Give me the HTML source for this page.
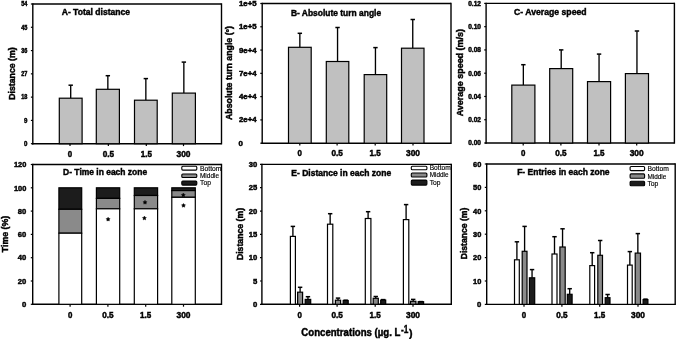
<!DOCTYPE html>
<html><head><meta charset="utf-8"><style>
html,body{margin:0;padding:0;background:#fff;width:676px;height:339px;overflow:hidden}
svg{display:block;will-change:transform}
text{font-family:"Liberation Sans", sans-serif;fill:#000}
</style></head><body>
<svg width="676" height="339" viewBox="0 0 676 339">
<rect x="0" y="0" width="676" height="339" fill="#fff"/>
<line x1="32.80" y1="4.00" x2="221.50" y2="4.00" stroke="#000" stroke-width="1.4"/>
<line x1="221.50" y1="3.30" x2="221.50" y2="144.40" stroke="#000" stroke-width="1.4"/>
<line x1="32.10" y1="143.70" x2="221.50" y2="143.70" stroke="#000" stroke-width="1.4"/>
<line x1="32.80" y1="3.30" x2="32.80" y2="144.40" stroke="#000" stroke-width="1.4"/>
<line x1="30.90" y1="143.70" x2="32.80" y2="143.70" stroke="#000" stroke-width="1.2"/>
<line x1="30.90" y1="120.42" x2="32.80" y2="120.42" stroke="#000" stroke-width="1.2"/>
<line x1="30.90" y1="97.13" x2="32.80" y2="97.13" stroke="#000" stroke-width="1.2"/>
<line x1="30.90" y1="73.85" x2="32.80" y2="73.85" stroke="#000" stroke-width="1.2"/>
<line x1="30.90" y1="50.57" x2="32.80" y2="50.57" stroke="#000" stroke-width="1.2"/>
<line x1="30.90" y1="27.28" x2="32.80" y2="27.28" stroke="#000" stroke-width="1.2"/>
<line x1="30.90" y1="4.00" x2="32.80" y2="4.00" stroke="#000" stroke-width="1.2"/>
<text x="27.4" y="146.004" font-size="6.4" font-weight="bold" text-anchor="end" stroke="#000" stroke-width="0.45" textLength="3.4" lengthAdjust="spacingAndGlyphs">0</text>
<text x="27.4" y="122.72066666666666" font-size="6.4" font-weight="bold" text-anchor="end" stroke="#000" stroke-width="0.45" textLength="3.4" lengthAdjust="spacingAndGlyphs">9</text>
<text x="27.4" y="99.43733333333333" font-size="6.4" font-weight="bold" text-anchor="end" stroke="#000" stroke-width="0.45" textLength="6.2" lengthAdjust="spacingAndGlyphs">18</text>
<text x="27.4" y="76.154" font-size="6.4" font-weight="bold" text-anchor="end" stroke="#000" stroke-width="0.45" textLength="6.2" lengthAdjust="spacingAndGlyphs">27</text>
<text x="27.4" y="52.870666666666665" font-size="6.4" font-weight="bold" text-anchor="end" stroke="#000" stroke-width="0.45" textLength="6.2" lengthAdjust="spacingAndGlyphs">36</text>
<text x="27.4" y="29.587333333333316" font-size="6.4" font-weight="bold" text-anchor="end" stroke="#000" stroke-width="0.45" textLength="6.2" lengthAdjust="spacingAndGlyphs">45</text>
<text x="27.4" y="6.304" font-size="6.4" font-weight="bold" text-anchor="end" stroke="#000" stroke-width="0.45" textLength="6.2" lengthAdjust="spacingAndGlyphs">54</text>
<line x1="70.00" y1="143.70" x2="70.00" y2="146.10" stroke="#000" stroke-width="1.2"/>
<line x1="108.35" y1="143.70" x2="108.35" y2="146.10" stroke="#000" stroke-width="1.2"/>
<line x1="146.30" y1="143.70" x2="146.30" y2="146.10" stroke="#000" stroke-width="1.2"/>
<line x1="183.50" y1="143.70" x2="183.50" y2="146.10" stroke="#000" stroke-width="1.2"/>
<text x="70.0" y="157.0" font-size="8.2" font-weight="bold" text-anchor="middle" stroke="#000" stroke-width="0.45" textLength="4.4" lengthAdjust="spacingAndGlyphs">0</text>
<text x="108.35" y="157.0" font-size="8.2" font-weight="bold" text-anchor="middle" stroke="#000" stroke-width="0.45" textLength="11.4" lengthAdjust="spacingAndGlyphs">0.5</text>
<text x="146.3" y="157.0" font-size="8.2" font-weight="bold" text-anchor="middle" stroke="#000" stroke-width="0.45" textLength="11.2" lengthAdjust="spacingAndGlyphs">1.5</text>
<text x="183.5" y="157.0" font-size="8.2" font-weight="bold" text-anchor="middle" stroke="#000" stroke-width="0.45" textLength="14.0" lengthAdjust="spacingAndGlyphs">300</text>
<line x1="70.70" y1="98.20" x2="70.70" y2="85.40" stroke="#000" stroke-width="1.35"/>
<line x1="68.50" y1="85.20" x2="72.90" y2="85.20" stroke="#000" stroke-width="1.5"/>
<rect x="59.30" y="98.20" width="22.80" height="45.50" fill="#c0c0c0" stroke="#000" stroke-width="1.2"/>
<line x1="107.85" y1="89.30" x2="107.85" y2="75.90" stroke="#000" stroke-width="1.35"/>
<line x1="105.65" y1="75.70" x2="110.05" y2="75.70" stroke="#000" stroke-width="1.5"/>
<rect x="96.30" y="89.30" width="23.10" height="54.40" fill="#c0c0c0" stroke="#000" stroke-width="1.2"/>
<line x1="145.85" y1="100.20" x2="145.85" y2="78.80" stroke="#000" stroke-width="1.35"/>
<line x1="143.65" y1="78.60" x2="148.05" y2="78.60" stroke="#000" stroke-width="1.5"/>
<rect x="134.50" y="100.20" width="22.70" height="43.50" fill="#c0c0c0" stroke="#000" stroke-width="1.2"/>
<line x1="183.85" y1="93.10" x2="183.85" y2="62.30" stroke="#000" stroke-width="1.35"/>
<line x1="181.65" y1="62.10" x2="186.05" y2="62.10" stroke="#000" stroke-width="1.5"/>
<rect x="172.30" y="93.10" width="23.10" height="50.60" fill="#c0c0c0" stroke="#000" stroke-width="1.2"/>
<text x="61.7" y="15.1" font-size="9.2" font-weight="bold" text-anchor="start" stroke="#000" stroke-width="0.45" textLength="68.4" lengthAdjust="spacingAndGlyphs">A- Total distance</text>
<text x="15.0" y="73.55" font-size="8.8" font-weight="bold" text-anchor="middle" stroke="#000" stroke-width="0.45" textLength="52.6" lengthAdjust="spacingAndGlyphs" transform="rotate(-90 15.0 73.55)">Distance (m)</text>
<line x1="262.20" y1="3.50" x2="451.00" y2="3.50" stroke="#000" stroke-width="1.4"/>
<line x1="451.00" y1="2.80" x2="451.00" y2="143.90" stroke="#000" stroke-width="1.4"/>
<line x1="261.50" y1="143.20" x2="451.00" y2="143.20" stroke="#000" stroke-width="1.4"/>
<line x1="262.20" y1="2.80" x2="262.20" y2="143.90" stroke="#000" stroke-width="1.4"/>
<line x1="260.30" y1="143.20" x2="262.20" y2="143.20" stroke="#000" stroke-width="1.2"/>
<line x1="260.30" y1="119.92" x2="262.20" y2="119.92" stroke="#000" stroke-width="1.2"/>
<line x1="260.30" y1="96.63" x2="262.20" y2="96.63" stroke="#000" stroke-width="1.2"/>
<line x1="260.30" y1="73.35" x2="262.20" y2="73.35" stroke="#000" stroke-width="1.2"/>
<line x1="260.30" y1="50.07" x2="262.20" y2="50.07" stroke="#000" stroke-width="1.2"/>
<line x1="260.30" y1="26.78" x2="262.20" y2="26.78" stroke="#000" stroke-width="1.2"/>
<line x1="260.30" y1="3.50" x2="262.20" y2="3.50" stroke="#000" stroke-width="1.2"/>
<text x="238.6" y="145.72" font-size="7.0" font-weight="bold" text-anchor="start" stroke="#000" stroke-width="0.45" textLength="4.4" lengthAdjust="spacingAndGlyphs">0</text>
<text x="256.59999999999997" y="122.43666666666665" font-size="7.0" font-weight="bold" text-anchor="end" stroke="#000" stroke-width="0.45" textLength="17.6" lengthAdjust="spacingAndGlyphs">2e+4</text>
<text x="256.59999999999997" y="99.15333333333332" font-size="7.0" font-weight="bold" text-anchor="end" stroke="#000" stroke-width="0.45" textLength="17.6" lengthAdjust="spacingAndGlyphs">4e+4</text>
<text x="256.59999999999997" y="75.86999999999999" font-size="7.0" font-weight="bold" text-anchor="end" stroke="#000" stroke-width="0.45" textLength="17.6" lengthAdjust="spacingAndGlyphs">7e+4</text>
<text x="256.59999999999997" y="52.586666666666666" font-size="7.0" font-weight="bold" text-anchor="end" stroke="#000" stroke-width="0.45" textLength="17.6" lengthAdjust="spacingAndGlyphs">9e+4</text>
<text x="256.59999999999997" y="29.303333333333317" font-size="7.0" font-weight="bold" text-anchor="end" stroke="#000" stroke-width="0.45" textLength="17.6" lengthAdjust="spacingAndGlyphs">1e+5</text>
<text x="256.59999999999997" y="6.02" font-size="7.0" font-weight="bold" text-anchor="end" stroke="#000" stroke-width="0.45" textLength="17.6" lengthAdjust="spacingAndGlyphs">1e+5</text>
<line x1="299.80" y1="143.20" x2="299.80" y2="145.60" stroke="#000" stroke-width="1.2"/>
<line x1="337.10" y1="143.20" x2="337.10" y2="145.60" stroke="#000" stroke-width="1.2"/>
<line x1="375.20" y1="143.20" x2="375.20" y2="145.60" stroke="#000" stroke-width="1.2"/>
<line x1="413.00" y1="143.20" x2="413.00" y2="145.60" stroke="#000" stroke-width="1.2"/>
<text x="299.8" y="156.3" font-size="8.2" font-weight="bold" text-anchor="middle" stroke="#000" stroke-width="0.45" textLength="4.4" lengthAdjust="spacingAndGlyphs">0</text>
<text x="337.1" y="156.3" font-size="8.2" font-weight="bold" text-anchor="middle" stroke="#000" stroke-width="0.45" textLength="11.4" lengthAdjust="spacingAndGlyphs">0.5</text>
<text x="375.2" y="156.3" font-size="8.2" font-weight="bold" text-anchor="middle" stroke="#000" stroke-width="0.45" textLength="11.2" lengthAdjust="spacingAndGlyphs">1.5</text>
<text x="413.0" y="156.3" font-size="8.2" font-weight="bold" text-anchor="middle" stroke="#000" stroke-width="0.45" textLength="14.0" lengthAdjust="spacingAndGlyphs">300</text>
<line x1="299.85" y1="47.30" x2="299.85" y2="33.50" stroke="#000" stroke-width="1.35"/>
<line x1="297.65" y1="33.30" x2="302.05" y2="33.30" stroke="#000" stroke-width="1.5"/>
<rect x="288.50" y="47.30" width="22.70" height="95.90" fill="#c0c0c0" stroke="#000" stroke-width="1.2"/>
<line x1="337.55" y1="61.50" x2="337.55" y2="27.70" stroke="#000" stroke-width="1.35"/>
<line x1="335.35" y1="27.50" x2="339.75" y2="27.50" stroke="#000" stroke-width="1.5"/>
<rect x="326.30" y="61.50" width="22.50" height="81.70" fill="#c0c0c0" stroke="#000" stroke-width="1.2"/>
<line x1="375.45" y1="74.60" x2="375.45" y2="47.80" stroke="#000" stroke-width="1.35"/>
<line x1="373.25" y1="47.60" x2="377.65" y2="47.60" stroke="#000" stroke-width="1.5"/>
<rect x="364.20" y="74.60" width="22.50" height="68.60" fill="#c0c0c0" stroke="#000" stroke-width="1.2"/>
<line x1="412.75" y1="48.20" x2="412.75" y2="19.70" stroke="#000" stroke-width="1.35"/>
<line x1="410.55" y1="19.50" x2="414.95" y2="19.50" stroke="#000" stroke-width="1.5"/>
<rect x="401.50" y="48.20" width="22.50" height="95.00" fill="#c0c0c0" stroke="#000" stroke-width="1.2"/>
<text x="290.9" y="15.5" font-size="9.2" font-weight="bold" text-anchor="start" stroke="#000" stroke-width="0.45" textLength="90.2" lengthAdjust="spacingAndGlyphs">B- Absolute turn angle</text>
<text x="232.2" y="73.0" font-size="8.8" font-weight="bold" text-anchor="middle" stroke="#000" stroke-width="0.45" textLength="94.0" lengthAdjust="spacingAndGlyphs" transform="rotate(-90 232.2 73.0)">Absolute turn angle (°)</text>
<line x1="486.10" y1="3.40" x2="674.40" y2="3.40" stroke="#000" stroke-width="1.4"/>
<line x1="674.40" y1="2.70" x2="674.40" y2="143.70" stroke="#000" stroke-width="1.4"/>
<line x1="485.40" y1="143.00" x2="674.40" y2="143.00" stroke="#000" stroke-width="1.4"/>
<line x1="486.10" y1="2.70" x2="486.10" y2="143.70" stroke="#000" stroke-width="1.4"/>
<line x1="484.20" y1="143.00" x2="486.10" y2="143.00" stroke="#000" stroke-width="1.2"/>
<line x1="484.20" y1="119.73" x2="486.10" y2="119.73" stroke="#000" stroke-width="1.2"/>
<line x1="484.20" y1="96.47" x2="486.10" y2="96.47" stroke="#000" stroke-width="1.2"/>
<line x1="484.20" y1="73.20" x2="486.10" y2="73.20" stroke="#000" stroke-width="1.2"/>
<line x1="484.20" y1="49.93" x2="486.10" y2="49.93" stroke="#000" stroke-width="1.2"/>
<line x1="484.20" y1="26.67" x2="486.10" y2="26.67" stroke="#000" stroke-width="1.2"/>
<line x1="484.20" y1="3.40" x2="486.10" y2="3.40" stroke="#000" stroke-width="1.2"/>
<text x="481.0" y="145.376" font-size="6.6" font-weight="bold" text-anchor="end" stroke="#000" stroke-width="0.45" textLength="12.8" lengthAdjust="spacingAndGlyphs">0.00</text>
<text x="481.0" y="122.10933333333334" font-size="6.6" font-weight="bold" text-anchor="end" stroke="#000" stroke-width="0.45" textLength="12.8" lengthAdjust="spacingAndGlyphs">0.02</text>
<text x="481.0" y="98.84266666666667" font-size="6.6" font-weight="bold" text-anchor="end" stroke="#000" stroke-width="0.45" textLength="12.8" lengthAdjust="spacingAndGlyphs">0.04</text>
<text x="481.0" y="75.57600000000001" font-size="6.6" font-weight="bold" text-anchor="end" stroke="#000" stroke-width="0.45" textLength="12.8" lengthAdjust="spacingAndGlyphs">0.06</text>
<text x="481.0" y="52.309333333333335" font-size="6.6" font-weight="bold" text-anchor="end" stroke="#000" stroke-width="0.45" textLength="12.8" lengthAdjust="spacingAndGlyphs">0.08</text>
<text x="481.0" y="29.042666666666673" font-size="6.6" font-weight="bold" text-anchor="end" stroke="#000" stroke-width="0.45" textLength="12.8" lengthAdjust="spacingAndGlyphs">0.10</text>
<text x="481.0" y="5.776000000000005" font-size="6.6" font-weight="bold" text-anchor="end" stroke="#000" stroke-width="0.45" textLength="12.8" lengthAdjust="spacingAndGlyphs">0.12</text>
<line x1="523.20" y1="143.00" x2="523.20" y2="145.40" stroke="#000" stroke-width="1.2"/>
<line x1="560.90" y1="143.00" x2="560.90" y2="145.40" stroke="#000" stroke-width="1.2"/>
<line x1="599.00" y1="143.00" x2="599.00" y2="145.40" stroke="#000" stroke-width="1.2"/>
<line x1="636.70" y1="143.00" x2="636.70" y2="145.40" stroke="#000" stroke-width="1.2"/>
<text x="523.2" y="156.3" font-size="8.2" font-weight="bold" text-anchor="middle" stroke="#000" stroke-width="0.45" textLength="4.4" lengthAdjust="spacingAndGlyphs">0</text>
<text x="560.9" y="156.3" font-size="8.2" font-weight="bold" text-anchor="middle" stroke="#000" stroke-width="0.45" textLength="11.4" lengthAdjust="spacingAndGlyphs">0.5</text>
<text x="599.0" y="156.3" font-size="8.2" font-weight="bold" text-anchor="middle" stroke="#000" stroke-width="0.45" textLength="11.2" lengthAdjust="spacingAndGlyphs">1.5</text>
<text x="636.7" y="156.3" font-size="8.2" font-weight="bold" text-anchor="middle" stroke="#000" stroke-width="0.45" textLength="14.0" lengthAdjust="spacingAndGlyphs">300</text>
<line x1="523.35" y1="85.10" x2="523.35" y2="64.90" stroke="#000" stroke-width="1.35"/>
<line x1="521.15" y1="64.70" x2="525.55" y2="64.70" stroke="#000" stroke-width="1.5"/>
<rect x="511.80" y="85.10" width="23.10" height="57.90" fill="#c0c0c0" stroke="#000" stroke-width="1.2"/>
<line x1="561.20" y1="68.60" x2="561.20" y2="50.10" stroke="#000" stroke-width="1.35"/>
<line x1="559.00" y1="49.90" x2="563.40" y2="49.90" stroke="#000" stroke-width="1.5"/>
<rect x="549.70" y="68.60" width="23.00" height="74.40" fill="#c0c0c0" stroke="#000" stroke-width="1.2"/>
<line x1="599.05" y1="81.60" x2="599.05" y2="54.30" stroke="#000" stroke-width="1.35"/>
<line x1="596.85" y1="54.10" x2="601.25" y2="54.10" stroke="#000" stroke-width="1.5"/>
<rect x="587.50" y="81.60" width="23.10" height="61.40" fill="#c0c0c0" stroke="#000" stroke-width="1.2"/>
<line x1="636.95" y1="73.60" x2="636.95" y2="31.20" stroke="#000" stroke-width="1.35"/>
<line x1="634.75" y1="31.00" x2="639.15" y2="31.00" stroke="#000" stroke-width="1.5"/>
<rect x="625.40" y="73.60" width="23.10" height="69.40" fill="#c0c0c0" stroke="#000" stroke-width="1.2"/>
<text x="514.0" y="15.2" font-size="9.2" font-weight="bold" text-anchor="start" stroke="#000" stroke-width="0.45" textLength="72.6" lengthAdjust="spacingAndGlyphs">C- Average speed</text>
<text x="462.7" y="72.65" font-size="8.8" font-weight="bold" text-anchor="middle" stroke="#000" stroke-width="0.45" textLength="87.3" lengthAdjust="spacingAndGlyphs" transform="rotate(-90 462.7 72.65)">Average speed (m/s)</text>
<line x1="32.70" y1="164.50" x2="221.50" y2="164.50" stroke="#000" stroke-width="1.4"/>
<line x1="221.50" y1="163.80" x2="221.50" y2="305.00" stroke="#000" stroke-width="1.4"/>
<line x1="32.00" y1="304.30" x2="221.50" y2="304.30" stroke="#000" stroke-width="1.4"/>
<line x1="32.70" y1="163.80" x2="32.70" y2="305.00" stroke="#000" stroke-width="1.4"/>
<line x1="30.80" y1="304.30" x2="32.70" y2="304.30" stroke="#000" stroke-width="1.2"/>
<line x1="30.80" y1="281.00" x2="32.70" y2="281.00" stroke="#000" stroke-width="1.2"/>
<line x1="30.80" y1="257.70" x2="32.70" y2="257.70" stroke="#000" stroke-width="1.2"/>
<line x1="30.80" y1="234.40" x2="32.70" y2="234.40" stroke="#000" stroke-width="1.2"/>
<line x1="30.80" y1="211.10" x2="32.70" y2="211.10" stroke="#000" stroke-width="1.2"/>
<line x1="30.80" y1="187.80" x2="32.70" y2="187.80" stroke="#000" stroke-width="1.2"/>
<line x1="30.80" y1="164.50" x2="32.70" y2="164.50" stroke="#000" stroke-width="1.2"/>
<text x="26.299999999999997" y="307.036" font-size="7.6" font-weight="bold" text-anchor="end" stroke="#000" stroke-width="0.45" textLength="4.3" lengthAdjust="spacingAndGlyphs">0</text>
<text x="26.299999999999997" y="283.736" font-size="7.6" font-weight="bold" text-anchor="end" stroke="#000" stroke-width="0.45" textLength="8.5" lengthAdjust="spacingAndGlyphs">20</text>
<text x="26.299999999999997" y="260.436" font-size="7.6" font-weight="bold" text-anchor="end" stroke="#000" stroke-width="0.45" textLength="8.5" lengthAdjust="spacingAndGlyphs">40</text>
<text x="26.299999999999997" y="237.136" font-size="7.6" font-weight="bold" text-anchor="end" stroke="#000" stroke-width="0.45" textLength="8.5" lengthAdjust="spacingAndGlyphs">60</text>
<text x="26.299999999999997" y="213.836" font-size="7.6" font-weight="bold" text-anchor="end" stroke="#000" stroke-width="0.45" textLength="8.5" lengthAdjust="spacingAndGlyphs">80</text>
<text x="26.299999999999997" y="190.536" font-size="7.6" font-weight="bold" text-anchor="end" stroke="#000" stroke-width="0.45" textLength="12.4" lengthAdjust="spacingAndGlyphs">100</text>
<text x="26.299999999999997" y="167.236" font-size="7.6" font-weight="bold" text-anchor="end" stroke="#000" stroke-width="0.45" textLength="12.4" lengthAdjust="spacingAndGlyphs">120</text>
<line x1="70.10" y1="304.30" x2="70.10" y2="306.70" stroke="#000" stroke-width="1.2"/>
<line x1="107.90" y1="304.30" x2="107.90" y2="306.70" stroke="#000" stroke-width="1.2"/>
<line x1="145.70" y1="304.30" x2="145.70" y2="306.70" stroke="#000" stroke-width="1.2"/>
<line x1="183.50" y1="304.30" x2="183.50" y2="306.70" stroke="#000" stroke-width="1.2"/>
<text x="70.1" y="317.6" font-size="8.2" font-weight="bold" text-anchor="middle" stroke="#000" stroke-width="0.45" textLength="4.4" lengthAdjust="spacingAndGlyphs">0</text>
<text x="107.9" y="317.6" font-size="8.2" font-weight="bold" text-anchor="middle" stroke="#000" stroke-width="0.45" textLength="11.4" lengthAdjust="spacingAndGlyphs">0.5</text>
<text x="145.7" y="317.6" font-size="8.2" font-weight="bold" text-anchor="middle" stroke="#000" stroke-width="0.45" textLength="11.2" lengthAdjust="spacingAndGlyphs">1.5</text>
<text x="183.5" y="317.6" font-size="8.2" font-weight="bold" text-anchor="middle" stroke="#000" stroke-width="0.45" textLength="14.0" lengthAdjust="spacingAndGlyphs">300</text>
<rect x="58.90" y="187.80" width="22.80" height="21.50" fill="#1c1c1c" stroke="#000" stroke-width="1.2"/>
<rect x="58.90" y="209.30" width="22.80" height="23.90" fill="#8a8a8a" stroke="#000" stroke-width="1.2"/>
<rect x="58.90" y="233.20" width="22.80" height="71.10" fill="#ffffff" stroke="#000" stroke-width="1.2"/>
<rect x="96.40" y="187.80" width="23.30" height="10.60" fill="#1c1c1c" stroke="#000" stroke-width="1.2"/>
<rect x="96.40" y="198.40" width="23.30" height="10.40" fill="#8a8a8a" stroke="#000" stroke-width="1.2"/>
<rect x="96.40" y="208.80" width="23.30" height="95.50" fill="#ffffff" stroke="#000" stroke-width="1.2"/>
<rect x="134.30" y="187.80" width="23.30" height="7.70" fill="#1c1c1c" stroke="#000" stroke-width="1.2"/>
<rect x="134.30" y="195.50" width="23.30" height="13.30" fill="#8a8a8a" stroke="#000" stroke-width="1.2"/>
<rect x="134.30" y="208.80" width="23.30" height="95.50" fill="#ffffff" stroke="#000" stroke-width="1.2"/>
<rect x="171.80" y="187.80" width="23.50" height="2.80" fill="#1c1c1c" stroke="#000" stroke-width="1.2"/>
<rect x="171.80" y="190.60" width="23.50" height="6.70" fill="#8a8a8a" stroke="#000" stroke-width="1.2"/>
<rect x="171.80" y="197.30" width="23.50" height="107.00" fill="#ffffff" stroke="#000" stroke-width="1.2"/>
<polygon points="108.10,217.20 108.78,218.37 110.10,218.65 109.19,219.66 109.33,221.00 108.10,220.45 106.87,221.00 107.01,219.66 106.10,218.65 107.42,218.37" fill="#000" stroke="#000" stroke-width="0.4"/>
<polygon points="145.00,200.30 145.68,201.47 147.00,201.75 146.09,202.76 146.23,204.10 145.00,203.55 143.77,204.10 143.91,202.76 143.00,201.75 144.32,201.47" fill="#000" stroke="#000" stroke-width="0.4"/>
<polygon points="144.40,216.10 145.08,217.27 146.40,217.55 145.49,218.56 145.63,219.90 144.40,219.35 143.17,219.90 143.31,218.56 142.40,217.55 143.72,217.27" fill="#000" stroke="#000" stroke-width="0.4"/>
<polygon points="183.30,193.00 183.98,194.17 185.30,194.45 184.39,195.46 184.53,196.80 183.30,196.25 182.07,196.80 182.21,195.46 181.30,194.45 182.62,194.17" fill="#000" stroke="#000" stroke-width="0.4"/>
<polygon points="183.50,203.40 184.18,204.57 185.50,204.85 184.59,205.86 184.73,207.20 183.50,206.65 182.27,207.20 182.41,205.86 181.50,204.85 182.82,204.57" fill="#000" stroke="#000" stroke-width="0.4"/>
<text x="63.1" y="175.3" font-size="9.2" font-weight="bold" text-anchor="start" stroke="#000" stroke-width="0.45" textLength="84.0" lengthAdjust="spacingAndGlyphs">D- Time in each zone</text>
<text x="8.0" y="234.0" font-size="8.8" font-weight="bold" text-anchor="middle" stroke="#000" stroke-width="0.45" textLength="36.4" lengthAdjust="spacingAndGlyphs" transform="rotate(-90 8.0 234.0)">Time (%)</text>
<rect x="181.80" y="166.20" width="15.00" height="3.90" fill="#ffffff" stroke="#000" stroke-width="1.1" rx="1"/>
<text x="200" y="170.54999999999998" font-size="6.8" font-weight="normal" text-anchor="start" stroke="#000" stroke-width="0.15" textLength="21.4" lengthAdjust="spacingAndGlyphs">Bottom</text>
<rect x="181.80" y="174.00" width="15.00" height="3.50" fill="#8a8a8a" stroke="#000" stroke-width="1.1" rx="1"/>
<text x="200" y="178.15" font-size="6.8" font-weight="normal" text-anchor="start" stroke="#000" stroke-width="0.15" textLength="19.0" lengthAdjust="spacingAndGlyphs">Middle</text>
<rect x="181.80" y="181.00" width="15.00" height="4.10" fill="#1c1c1c" stroke="#000" stroke-width="1.1" rx="1"/>
<text x="200" y="185.45000000000002" font-size="6.8" font-weight="normal" text-anchor="start" stroke="#000" stroke-width="0.15" textLength="11.0" lengthAdjust="spacingAndGlyphs">Top</text>
<line x1="261.90" y1="164.40" x2="451.30" y2="164.40" stroke="#000" stroke-width="1.4"/>
<line x1="451.30" y1="163.70" x2="451.30" y2="305.00" stroke="#000" stroke-width="1.4"/>
<line x1="261.20" y1="304.30" x2="451.30" y2="304.30" stroke="#000" stroke-width="1.4"/>
<line x1="261.90" y1="163.70" x2="261.90" y2="305.00" stroke="#000" stroke-width="1.4"/>
<line x1="260.00" y1="304.30" x2="261.90" y2="304.30" stroke="#000" stroke-width="1.2"/>
<line x1="260.00" y1="280.98" x2="261.90" y2="280.98" stroke="#000" stroke-width="1.2"/>
<line x1="260.00" y1="257.67" x2="261.90" y2="257.67" stroke="#000" stroke-width="1.2"/>
<line x1="260.00" y1="234.35" x2="261.90" y2="234.35" stroke="#000" stroke-width="1.2"/>
<line x1="260.00" y1="211.03" x2="261.90" y2="211.03" stroke="#000" stroke-width="1.2"/>
<line x1="260.00" y1="187.72" x2="261.90" y2="187.72" stroke="#000" stroke-width="1.2"/>
<line x1="260.00" y1="164.40" x2="261.90" y2="164.40" stroke="#000" stroke-width="1.2"/>
<text x="257.2" y="307.036" font-size="7.6" font-weight="bold" text-anchor="end" stroke="#000" stroke-width="0.45" textLength="4.3" lengthAdjust="spacingAndGlyphs">0</text>
<text x="257.2" y="283.71933333333334" font-size="7.6" font-weight="bold" text-anchor="end" stroke="#000" stroke-width="0.45" textLength="4.3" lengthAdjust="spacingAndGlyphs">5</text>
<text x="257.2" y="260.4026666666667" font-size="7.6" font-weight="bold" text-anchor="end" stroke="#000" stroke-width="0.45" textLength="8.5" lengthAdjust="spacingAndGlyphs">10</text>
<text x="257.2" y="237.086" font-size="7.6" font-weight="bold" text-anchor="end" stroke="#000" stroke-width="0.45" textLength="8.5" lengthAdjust="spacingAndGlyphs">15</text>
<text x="257.2" y="213.76933333333335" font-size="7.6" font-weight="bold" text-anchor="end" stroke="#000" stroke-width="0.45" textLength="8.5" lengthAdjust="spacingAndGlyphs">20</text>
<text x="257.2" y="190.4526666666667" font-size="7.6" font-weight="bold" text-anchor="end" stroke="#000" stroke-width="0.45" textLength="8.5" lengthAdjust="spacingAndGlyphs">25</text>
<text x="257.2" y="167.136" font-size="7.6" font-weight="bold" text-anchor="end" stroke="#000" stroke-width="0.45" textLength="8.5" lengthAdjust="spacingAndGlyphs">30</text>
<line x1="299.60" y1="304.30" x2="299.60" y2="306.70" stroke="#000" stroke-width="1.2"/>
<line x1="337.10" y1="304.30" x2="337.10" y2="306.70" stroke="#000" stroke-width="1.2"/>
<line x1="375.20" y1="304.30" x2="375.20" y2="306.70" stroke="#000" stroke-width="1.2"/>
<line x1="413.00" y1="304.30" x2="413.00" y2="306.70" stroke="#000" stroke-width="1.2"/>
<text x="299.6" y="317.6" font-size="8.2" font-weight="bold" text-anchor="middle" stroke="#000" stroke-width="0.45" textLength="4.4" lengthAdjust="spacingAndGlyphs">0</text>
<text x="337.1" y="317.6" font-size="8.2" font-weight="bold" text-anchor="middle" stroke="#000" stroke-width="0.45" textLength="11.4" lengthAdjust="spacingAndGlyphs">0.5</text>
<text x="375.2" y="317.6" font-size="8.2" font-weight="bold" text-anchor="middle" stroke="#000" stroke-width="0.45" textLength="11.2" lengthAdjust="spacingAndGlyphs">1.5</text>
<text x="413.0" y="317.6" font-size="8.2" font-weight="bold" text-anchor="middle" stroke="#000" stroke-width="0.45" textLength="14.0" lengthAdjust="spacingAndGlyphs">300</text>
<line x1="292.90" y1="236.40" x2="292.90" y2="226.60" stroke="#000" stroke-width="1.35"/>
<line x1="290.70" y1="226.40" x2="295.10" y2="226.40" stroke="#000" stroke-width="1.5"/>
<rect x="290.40" y="236.40" width="5.00" height="67.90" fill="#ffffff" stroke="#000" stroke-width="1.2"/>
<line x1="300.10" y1="292.20" x2="300.10" y2="287.50" stroke="#000" stroke-width="1.35"/>
<line x1="297.90" y1="287.30" x2="302.30" y2="287.30" stroke="#000" stroke-width="1.5"/>
<rect x="297.60" y="292.20" width="5.00" height="12.10" fill="#8a8a8a" stroke="#000" stroke-width="1.2"/>
<line x1="307.95" y1="299.40" x2="307.95" y2="296.90" stroke="#000" stroke-width="1.35"/>
<line x1="305.75" y1="296.70" x2="310.15" y2="296.70" stroke="#000" stroke-width="1.5"/>
<rect x="305.20" y="299.40" width="5.50" height="4.90" fill="#1c1c1c" stroke="#000" stroke-width="1.2"/>
<line x1="330.15" y1="224.20" x2="330.15" y2="213.90" stroke="#000" stroke-width="1.35"/>
<line x1="327.95" y1="213.70" x2="332.35" y2="213.70" stroke="#000" stroke-width="1.5"/>
<rect x="327.50" y="224.20" width="5.30" height="80.10" fill="#ffffff" stroke="#000" stroke-width="1.2"/>
<line x1="338.00" y1="300.20" x2="338.00" y2="298.30" stroke="#000" stroke-width="1.35"/>
<line x1="335.80" y1="298.10" x2="340.20" y2="298.10" stroke="#000" stroke-width="1.5"/>
<rect x="335.40" y="300.20" width="5.20" height="4.10" fill="#8a8a8a" stroke="#000" stroke-width="1.2"/>
<line x1="345.70" y1="300.50" x2="345.70" y2="300.40" stroke="#000" stroke-width="1.35"/>
<line x1="343.50" y1="300.20" x2="347.90" y2="300.20" stroke="#000" stroke-width="1.5"/>
<rect x="343.20" y="300.50" width="5.00" height="3.80" fill="#1c1c1c" stroke="#000" stroke-width="1.2"/>
<line x1="368.10" y1="218.50" x2="368.10" y2="211.90" stroke="#000" stroke-width="1.35"/>
<line x1="365.90" y1="211.70" x2="370.30" y2="211.70" stroke="#000" stroke-width="1.5"/>
<rect x="365.30" y="218.50" width="5.60" height="85.80" fill="#ffffff" stroke="#000" stroke-width="1.2"/>
<line x1="375.75" y1="298.30" x2="375.75" y2="296.70" stroke="#000" stroke-width="1.35"/>
<line x1="373.55" y1="296.50" x2="377.95" y2="296.50" stroke="#000" stroke-width="1.5"/>
<rect x="373.20" y="298.30" width="5.10" height="6.00" fill="#8a8a8a" stroke="#000" stroke-width="1.2"/>
<line x1="383.20" y1="300.10" x2="383.20" y2="299.80" stroke="#000" stroke-width="1.35"/>
<line x1="381.00" y1="299.60" x2="385.40" y2="299.60" stroke="#000" stroke-width="1.5"/>
<rect x="380.70" y="300.10" width="5.00" height="4.20" fill="#1c1c1c" stroke="#000" stroke-width="1.2"/>
<line x1="406.10" y1="219.60" x2="406.10" y2="204.80" stroke="#000" stroke-width="1.35"/>
<line x1="403.90" y1="204.60" x2="408.30" y2="204.60" stroke="#000" stroke-width="1.5"/>
<rect x="403.40" y="219.60" width="5.40" height="84.70" fill="#ffffff" stroke="#000" stroke-width="1.2"/>
<line x1="413.20" y1="301.30" x2="413.20" y2="299.60" stroke="#000" stroke-width="1.35"/>
<line x1="411.00" y1="299.40" x2="415.40" y2="299.40" stroke="#000" stroke-width="1.5"/>
<rect x="410.50" y="301.30" width="5.40" height="3.00" fill="#8a8a8a" stroke="#000" stroke-width="1.2"/>
<line x1="420.90" y1="301.70" x2="420.90" y2="301.80" stroke="#000" stroke-width="1.35"/>
<line x1="418.70" y1="301.60" x2="423.10" y2="301.60" stroke="#000" stroke-width="1.5"/>
<rect x="418.20" y="301.70" width="5.40" height="2.60" fill="#1c1c1c" stroke="#000" stroke-width="1.2"/>
<text x="291.25" y="175.7" font-size="9.2" font-weight="bold" text-anchor="start" stroke="#000" stroke-width="0.45" textLength="100.0" lengthAdjust="spacingAndGlyphs">E- Distance in each zone</text>
<text x="242.5" y="234.0" font-size="8.8" font-weight="bold" text-anchor="middle" stroke="#000" stroke-width="0.45" textLength="52.2" lengthAdjust="spacingAndGlyphs" transform="rotate(-90 242.5 234.0)">Distance (m)</text>
<rect x="411.30" y="166.30" width="15.60" height="3.50" fill="#ffffff" stroke="#000" stroke-width="1.1" rx="1"/>
<text x="429.7" y="170.35000000000002" font-size="6.6" font-weight="normal" text-anchor="start" stroke="#000" stroke-width="0.15" textLength="21.0" lengthAdjust="spacingAndGlyphs">Bottom</text>
<rect x="411.30" y="173.00" width="15.60" height="4.00" fill="#8a8a8a" stroke="#000" stroke-width="1.1" rx="1"/>
<text x="429.7" y="177.3" font-size="6.6" font-weight="normal" text-anchor="start" stroke="#000" stroke-width="0.15" textLength="18.8" lengthAdjust="spacingAndGlyphs">Middle</text>
<rect x="411.30" y="180.10" width="15.60" height="5.00" fill="#1c1c1c" stroke="#000" stroke-width="1.1" rx="1"/>
<text x="429.7" y="184.9" font-size="6.6" font-weight="normal" text-anchor="start" stroke="#000" stroke-width="0.15" textLength="10.8" lengthAdjust="spacingAndGlyphs">Top</text>
<text x="301.3" y="336.2" font-size="10.3" font-weight="bold" text-anchor="start" stroke="#000" stroke-width="0.45" textLength="99.2" lengthAdjust="spacingAndGlyphs">Concentrations (µg. L</text>
<text x="400.9" y="332.9" font-size="10.0" font-weight="bold" text-anchor="start" stroke="#000" stroke-width="0.4" textLength="7.4" lengthAdjust="spacingAndGlyphs">-1</text>
<text x="409.0" y="336.6" font-size="10.6" font-weight="bold" text-anchor="start" stroke="#000" stroke-width="0.4">)</text>
<line x1="486.70" y1="164.00" x2="675.20" y2="164.00" stroke="#000" stroke-width="1.4"/>
<line x1="675.20" y1="163.30" x2="675.20" y2="305.10" stroke="#000" stroke-width="1.4"/>
<line x1="486.00" y1="304.40" x2="675.20" y2="304.40" stroke="#000" stroke-width="1.4"/>
<line x1="486.70" y1="163.30" x2="486.70" y2="305.10" stroke="#000" stroke-width="1.4"/>
<line x1="484.80" y1="304.40" x2="486.70" y2="304.40" stroke="#000" stroke-width="1.2"/>
<line x1="484.80" y1="281.00" x2="486.70" y2="281.00" stroke="#000" stroke-width="1.2"/>
<line x1="484.80" y1="257.60" x2="486.70" y2="257.60" stroke="#000" stroke-width="1.2"/>
<line x1="484.80" y1="234.20" x2="486.70" y2="234.20" stroke="#000" stroke-width="1.2"/>
<line x1="484.80" y1="210.80" x2="486.70" y2="210.80" stroke="#000" stroke-width="1.2"/>
<line x1="484.80" y1="187.40" x2="486.70" y2="187.40" stroke="#000" stroke-width="1.2"/>
<line x1="484.80" y1="164.00" x2="486.70" y2="164.00" stroke="#000" stroke-width="1.2"/>
<text x="481.4" y="307.13599999999997" font-size="7.6" font-weight="bold" text-anchor="end" stroke="#000" stroke-width="0.45" textLength="4.3" lengthAdjust="spacingAndGlyphs">0</text>
<text x="481.4" y="283.736" font-size="7.6" font-weight="bold" text-anchor="end" stroke="#000" stroke-width="0.45" textLength="8.3" lengthAdjust="spacingAndGlyphs">10</text>
<text x="481.4" y="260.33599999999996" font-size="7.6" font-weight="bold" text-anchor="end" stroke="#000" stroke-width="0.45" textLength="8.3" lengthAdjust="spacingAndGlyphs">20</text>
<text x="481.4" y="236.93599999999998" font-size="7.6" font-weight="bold" text-anchor="end" stroke="#000" stroke-width="0.45" textLength="8.3" lengthAdjust="spacingAndGlyphs">30</text>
<text x="481.4" y="213.536" font-size="7.6" font-weight="bold" text-anchor="end" stroke="#000" stroke-width="0.45" textLength="8.3" lengthAdjust="spacingAndGlyphs">40</text>
<text x="481.4" y="190.13599999999997" font-size="7.6" font-weight="bold" text-anchor="end" stroke="#000" stroke-width="0.45" textLength="8.3" lengthAdjust="spacingAndGlyphs">50</text>
<text x="481.4" y="166.736" font-size="7.6" font-weight="bold" text-anchor="end" stroke="#000" stroke-width="0.45" textLength="8.3" lengthAdjust="spacingAndGlyphs">60</text>
<line x1="524.00" y1="304.40" x2="524.00" y2="306.80" stroke="#000" stroke-width="1.2"/>
<line x1="561.90" y1="304.40" x2="561.90" y2="306.80" stroke="#000" stroke-width="1.2"/>
<line x1="599.70" y1="304.40" x2="599.70" y2="306.80" stroke="#000" stroke-width="1.2"/>
<line x1="638.00" y1="304.40" x2="638.00" y2="306.80" stroke="#000" stroke-width="1.2"/>
<text x="524.0" y="317.6" font-size="8.2" font-weight="bold" text-anchor="middle" stroke="#000" stroke-width="0.45" textLength="4.4" lengthAdjust="spacingAndGlyphs">0</text>
<text x="561.9" y="317.6" font-size="8.2" font-weight="bold" text-anchor="middle" stroke="#000" stroke-width="0.45" textLength="11.4" lengthAdjust="spacingAndGlyphs">0.5</text>
<text x="599.7" y="317.6" font-size="8.2" font-weight="bold" text-anchor="middle" stroke="#000" stroke-width="0.45" textLength="11.2" lengthAdjust="spacingAndGlyphs">1.5</text>
<text x="638.0" y="317.6" font-size="8.2" font-weight="bold" text-anchor="middle" stroke="#000" stroke-width="0.45" textLength="14.0" lengthAdjust="spacingAndGlyphs">300</text>
<line x1="516.90" y1="259.80" x2="516.90" y2="242.00" stroke="#000" stroke-width="1.35"/>
<line x1="514.70" y1="241.80" x2="519.10" y2="241.80" stroke="#000" stroke-width="1.5"/>
<rect x="514.50" y="259.80" width="4.80" height="44.60" fill="#ffffff" stroke="#000" stroke-width="1.2"/>
<line x1="524.60" y1="251.30" x2="524.60" y2="226.60" stroke="#000" stroke-width="1.35"/>
<line x1="522.40" y1="226.40" x2="526.80" y2="226.40" stroke="#000" stroke-width="1.5"/>
<rect x="522.20" y="251.30" width="4.80" height="53.10" fill="#8a8a8a" stroke="#000" stroke-width="1.2"/>
<line x1="532.05" y1="277.80" x2="532.05" y2="269.80" stroke="#000" stroke-width="1.35"/>
<line x1="529.85" y1="269.60" x2="534.25" y2="269.60" stroke="#000" stroke-width="1.5"/>
<rect x="529.40" y="277.80" width="5.30" height="26.60" fill="#1c1c1c" stroke="#000" stroke-width="1.2"/>
<line x1="554.50" y1="254.00" x2="554.50" y2="236.90" stroke="#000" stroke-width="1.35"/>
<line x1="552.30" y1="236.70" x2="556.70" y2="236.70" stroke="#000" stroke-width="1.5"/>
<rect x="552.00" y="254.00" width="5.00" height="50.40" fill="#ffffff" stroke="#000" stroke-width="1.2"/>
<line x1="562.55" y1="247.00" x2="562.55" y2="229.00" stroke="#000" stroke-width="1.35"/>
<line x1="560.35" y1="228.80" x2="564.75" y2="228.80" stroke="#000" stroke-width="1.5"/>
<rect x="559.90" y="247.00" width="5.30" height="57.40" fill="#8a8a8a" stroke="#000" stroke-width="1.2"/>
<line x1="569.70" y1="294.30" x2="569.70" y2="288.90" stroke="#000" stroke-width="1.35"/>
<line x1="567.50" y1="288.70" x2="571.90" y2="288.70" stroke="#000" stroke-width="1.5"/>
<rect x="567.30" y="294.30" width="4.80" height="10.10" fill="#1c1c1c" stroke="#000" stroke-width="1.2"/>
<line x1="592.20" y1="265.60" x2="592.20" y2="252.90" stroke="#000" stroke-width="1.35"/>
<line x1="590.00" y1="252.70" x2="594.40" y2="252.70" stroke="#000" stroke-width="1.5"/>
<rect x="589.80" y="265.60" width="4.80" height="38.80" fill="#ffffff" stroke="#000" stroke-width="1.2"/>
<line x1="600.15" y1="255.30" x2="600.15" y2="240.70" stroke="#000" stroke-width="1.35"/>
<line x1="597.95" y1="240.50" x2="602.35" y2="240.50" stroke="#000" stroke-width="1.5"/>
<rect x="597.80" y="255.30" width="4.70" height="49.10" fill="#8a8a8a" stroke="#000" stroke-width="1.2"/>
<line x1="607.60" y1="297.70" x2="607.60" y2="294.70" stroke="#000" stroke-width="1.35"/>
<line x1="605.40" y1="294.50" x2="609.80" y2="294.50" stroke="#000" stroke-width="1.5"/>
<rect x="605.20" y="297.70" width="4.80" height="6.70" fill="#1c1c1c" stroke="#000" stroke-width="1.2"/>
<line x1="629.85" y1="265.10" x2="629.85" y2="251.80" stroke="#000" stroke-width="1.35"/>
<line x1="627.65" y1="251.60" x2="632.05" y2="251.60" stroke="#000" stroke-width="1.5"/>
<rect x="627.50" y="265.10" width="4.70" height="39.30" fill="#ffffff" stroke="#000" stroke-width="1.2"/>
<line x1="637.85" y1="253.10" x2="637.85" y2="233.80" stroke="#000" stroke-width="1.35"/>
<line x1="635.65" y1="233.60" x2="640.05" y2="233.60" stroke="#000" stroke-width="1.5"/>
<rect x="635.20" y="253.10" width="5.30" height="51.30" fill="#8a8a8a" stroke="#000" stroke-width="1.2"/>
<line x1="645.50" y1="299.60" x2="645.50" y2="299.30" stroke="#000" stroke-width="1.35"/>
<line x1="643.30" y1="299.10" x2="647.70" y2="299.10" stroke="#000" stroke-width="1.5"/>
<rect x="643.10" y="299.60" width="4.80" height="4.80" fill="#1c1c1c" stroke="#000" stroke-width="1.2"/>
<text x="517.2" y="175.3" font-size="9.2" font-weight="bold" text-anchor="start" stroke="#000" stroke-width="0.45" textLength="92.4" lengthAdjust="spacingAndGlyphs">F- Entries in each zone</text>
<text x="466.7" y="233.45" font-size="8.8" font-weight="bold" text-anchor="middle" stroke="#000" stroke-width="0.45" textLength="51.7" lengthAdjust="spacingAndGlyphs" transform="rotate(-90 466.7 233.45)">Distance (m)</text>
<rect x="630.10" y="166.50" width="14.50" height="4.10" fill="#ffffff" stroke="#000" stroke-width="1.1" rx="1"/>
<text x="647.4" y="170.95000000000002" font-size="6.8" font-weight="normal" text-anchor="start" stroke="#000" stroke-width="0.15" textLength="21.4" lengthAdjust="spacingAndGlyphs">Bottom</text>
<rect x="630.10" y="173.90" width="14.50" height="4.40" fill="#8a8a8a" stroke="#000" stroke-width="1.1" rx="1"/>
<text x="647.4" y="178.50000000000003" font-size="6.8" font-weight="normal" text-anchor="start" stroke="#000" stroke-width="0.15" textLength="18.9" lengthAdjust="spacingAndGlyphs">Middle</text>
<rect x="630.10" y="181.20" width="14.50" height="4.50" fill="#1c1c1c" stroke="#000" stroke-width="1.1" rx="1"/>
<text x="647.4" y="185.85" font-size="6.8" font-weight="normal" text-anchor="start" stroke="#000" stroke-width="0.15" textLength="11.0" lengthAdjust="spacingAndGlyphs">Top</text>
</svg>
</body></html>
